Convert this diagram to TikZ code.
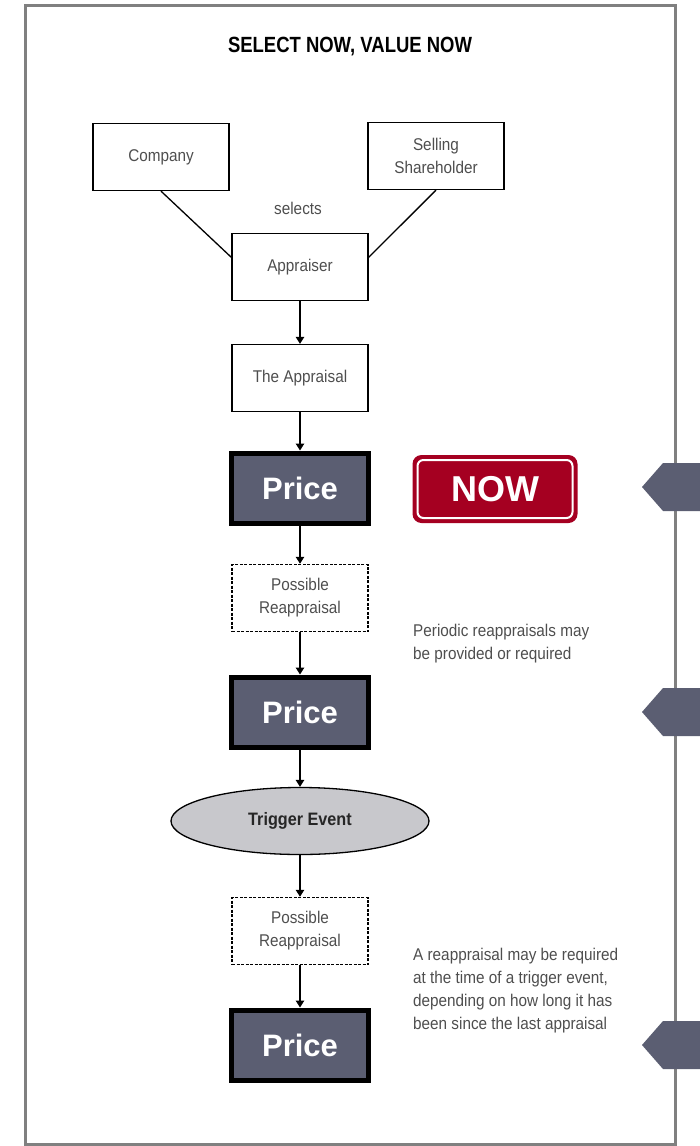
\documentclass[tikz,border=0pt]{standalone}
\usepackage{fontspec}
\setmainfont{Liberation Sans}
\newfontfamily\condfont[FakeStretch=0.9]{Liberation Sans}
\newfontfamily\headfont[FakeStretch=0.84]{Liberation Sans}
\usetikzlibrary{shapes.geometric,arrows.meta}
\definecolor{slate}{RGB}{91,94,114}
\definecolor{nowred}{RGB}{165,0,33}
\definecolor{txtgray}{RGB}{78,78,78}
\definecolor{framegray}{RGB}{128,128,128}
\definecolor{evgray}{RGB}{200,200,204}

\begin{document}
\begin{tikzpicture}[x=1pt, y=-1pt,
  box/.style={draw, line width=1.3pt, minimum width=136pt, minimum height=67pt,
    inner sep=0pt, align=center, text=txtgray, font=\condfont\fontsize{17}{23}\selectfont},
  dbox/.style={box, line width=1.5pt, dash pattern=on 3pt off 1.5pt},
  pricebox/.style={draw=black, fill=slate, line width=5pt, minimum width=137pt,
    minimum height=70pt, text=white, font=\bfseries\fontsize{31}{31}\selectfont},
  nowbox/.style={fill=nowred, rounded corners=9pt, minimum width=165pt, minimum height=68pt,
    inner sep=0pt, text=white, font=\bfseries\fontsize{36}{36}\selectfont},
  nowrim/.style={draw=white, line width=2pt, rounded corners=6pt, minimum width=155pt,
    minimum height=58pt, inner sep=0pt},
  event/.style={ellipse, draw, line width=1.3pt, fill=evgray, minimum width=258pt,
    minimum height=67pt, inner sep=0pt, text=black!85, font=\condfont\bfseries\fontsize{18}{18}\selectfont},
  note/.style={inner sep=0pt, align=left, text=txtgray, font=\condfont\fontsize{17}{23}\selectfont},
  link/.style={line width=1.3pt},
  arr/.style={-{Triangle[length=7pt,width=8.5pt]}, line width=1.2pt},
]
\useasboundingbox (0,0) rectangle (700,1146);
\draw[framegray, line width=3pt] (25,5) rectangle (675,1144);

% Title and selection {{{
\node[font=\headfont\bfseries\fontsize{22}{22}\selectfont] (title) at (350,47) {SELECT NOW, VALUE NOW};
\node[box] (comp) at (161,157) {Company};
\node[box] (sell) at (436,156) {Selling\\Shareholder};
\node[note] (sel) at (298,208) {selects};
\node[box] (app) at (300,267) {Appraiser};
\draw[link] (comp.south) -- (app.172);
\draw[link] (sell.south) -- (app.8);
% }}}

% Chain {{{
\node[box] (appr) at (300,378) {The Appraisal};
\node[pricebox] (p1) at (300,488) {Price};
\node[nowbox] (now) at (495,489) {NOW};
\node[nowrim] (nowin) at (now) {};
\node[dbox] (re1) at (300,598) {Possible\\Reappraisal};
\node[note, anchor=west] (n1) at (413,644) {Periodic reappraisals may\\be provided or required};
\node[pricebox] (p2) at (300,712) {Price};
\node[event] (trig) at (300,821) {Trigger Event};
\node[dbox] (re2) at (300,931) {Possible\\Reappraisal};
\node[note, anchor=west] (n2) at (413,991) {A reappraisal may be required\\at the time of a trigger event,\\depending on how long it has\\been since the last appraisal};
\node[pricebox] (p3) at (300,1045) {Price};
\foreach \a/\b in {app/appr, appr/p1, p1/re1, re1/p2, p2/trig, trig/re2, re2/p3}
  \draw[arr] (\a) -- (\b);
% }}}

% Side markers {{{
\foreach \y in {487,712,1045}
  \fill[slate] (642,\y) -- (663,\y-24) -- (705,\y-24) -- (705,\y+24) -- (663,\y+24) -- cycle;
% }}}
\end{tikzpicture}
\end{document}
